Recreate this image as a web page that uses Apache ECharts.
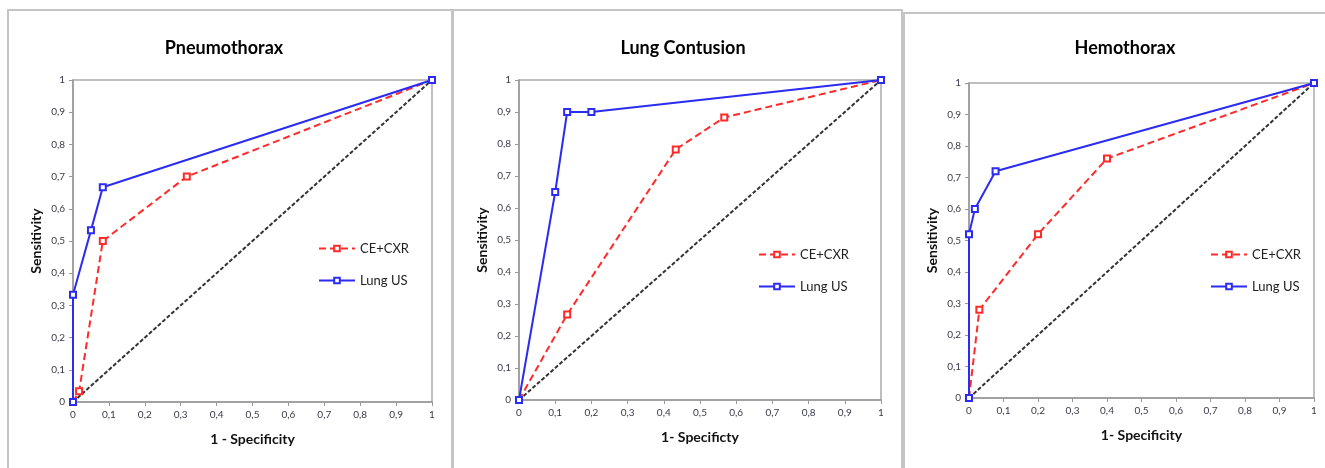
<!DOCTYPE html>
<html>
<head>
<meta charset="utf-8">
<script src="https://cdn.jsdelivr.net/npm/echarts@6/dist/echarts.min.js"></script>
<style>
  html, body { margin: 0; padding: 0; background: #fff; }
  #chart { width: 1325px; height: 468px; }
</style>
</head>
<body>
<div id="chart"></div>
<script>
// ROC points: [1 - specificity, sensitivity]
const titles = ['Pneumothorax', 'Lung Contusion', 'Hemothorax']
const xNames = ['1 - Specificity', '1- Specificty', '1- Specificity']

const pneumoCxr = [[0, 0], [0.017, 0.033], [0.083, 0.5], [0.317, 0.7], [1, 1]]
const pneumoUs = [[0, 0], [0, 0.333], [0.05, 0.533], [0.083, 0.667], [1, 1]]

const contusionCxr = [[0, 0], [0.133, 0.267], [0.433, 0.783], [0.567, 0.883], [1, 1]]
const contusionUs = [[0, 0], [0.1, 0.65], [0.133, 0.9], [0.2, 0.9], [1, 1]]

const hemoCxr = [[0, 0], [0.03, 0.28], [0.2, 0.52], [0.4, 0.76], [1, 1]]
const hemoUs = [[0, 0], [0, 0.52], [0.017, 0.6], [0.077, 0.72], [1, 1]]

const diagonal = [[0, 0], [1, 1]]

const cxrData = [pneumoCxr, contusionCxr, hemoCxr]
const usData = [pneumoUs, contusionUs, hemoUs]

// layout of the three panels
const grids = [
  { left: 73, right: 893, top: 80, bottom: 66 },
  { left: 519, right: 444, top: 80, bottom: 68 },
  { left: 969, right: 11, top: 83, bottom: 70 }
]
const titleX = [219, 678, 1120]
const legendPos = [[313, 237], [753, 243], [1205, 243]]
const frames = [[8, 10, 444, 470], [453, 10, 449, 470], [904, 13, 430, 470]]

const FONT = 'Lato, "Open Sans", sans-serif'
const RED = '#ff2a2a'
const BLUE = '#2b2bf2'

const fmt = v => (Math.round(v * 10) / 10).toString().replace('.', ',')

const axisCommon = {
  type: 'value', min: 0, max: 1, interval: 0.1,
  splitLine: { show: false },
  axisLine: { show: true, lineStyle: { color: '#999', width: 1.5 } },
  axisTick: { show: true, length: 4, lineStyle: { color: '#999' } },
  axisLabel: { color: '#3a3a4a', fontSize: 10, fontFamily: FONT, formatter: fmt },
  nameTextStyle: { color: '#111', fontSize: 14, fontWeight: 'bold', fontFamily: FONT }
}

const option = {
  animation: false,
  backgroundColor: '#fff',
  title: titles.map((t, i) => ({
    text: t, left: titleX[i], top: 34, textAlign: 'center',
    textStyle: { fontSize: 18, fontWeight: 'bold', color: '#000', fontFamily: FONT }
  })),
  legend: legendPos.map(p => ({
    data: ['CE+CXR', 'Lung US'], orient: 'vertical',
    left: p[0], top: p[1], itemWidth: 36, itemHeight: 7, itemGap: 19,
    textStyle: { fontSize: 13, color: '#222', fontFamily: FONT }
  })),
  grid: grids.map(g => Object.assign({ show: true, borderColor: '#aaa', borderWidth: 1.5 }, g)),
  xAxis: grids.map((g, i) => Object.assign({}, axisCommon, {
    gridIndex: i, name: xNames[i], nameLocation: 'middle', nameGap: 30
  })),
  yAxis: grids.map((g, i) => Object.assign({}, axisCommon, {
    gridIndex: i, name: 'Sensitivity', nameLocation: 'middle', nameGap: 30
  })),
  graphic: frames.map(f => ({
    type: 'rect', silent: true, z: -1,
    shape: { x: f[0], y: f[1], width: f[2], height: f[3] },
    style: { fill: 'none', stroke: '#c4c4c4', lineWidth: 2 }
  })),
  series: []
}

for (let i = 0; i < 3; i++) {
  option.series.push({
    name: 'diagonal', type: 'line', xAxisIndex: i, yAxisIndex: i,
    data: diagonal, symbol: 'none', z: 1,
    lineStyle: { color: '#333', width: 2, type: [4, 2] }
  })
  option.series.push({
    name: 'CE+CXR', type: 'line', xAxisIndex: i, yAxisIndex: i,
    data: cxrData[i], symbol: 'emptyRect', symbolSize: 6, z: 2,
    itemStyle: { color: RED, borderColor: RED, borderWidth: 1.5 },
    lineStyle: { color: RED, width: 2, type: [7, 4] }
  })
  option.series.push({
    name: 'Lung US', type: 'line', xAxisIndex: i, yAxisIndex: i,
    data: usData[i], symbol: 'emptyRect', symbolSize: 6, z: 3,
    itemStyle: { color: BLUE, borderColor: BLUE, borderWidth: 1.5 },
    lineStyle: { color: BLUE, width: 2 }
  })
}

const chart = echarts.init(document.getElementById('chart'))
chart.setOption(option)
</script>
</body>
</html>
